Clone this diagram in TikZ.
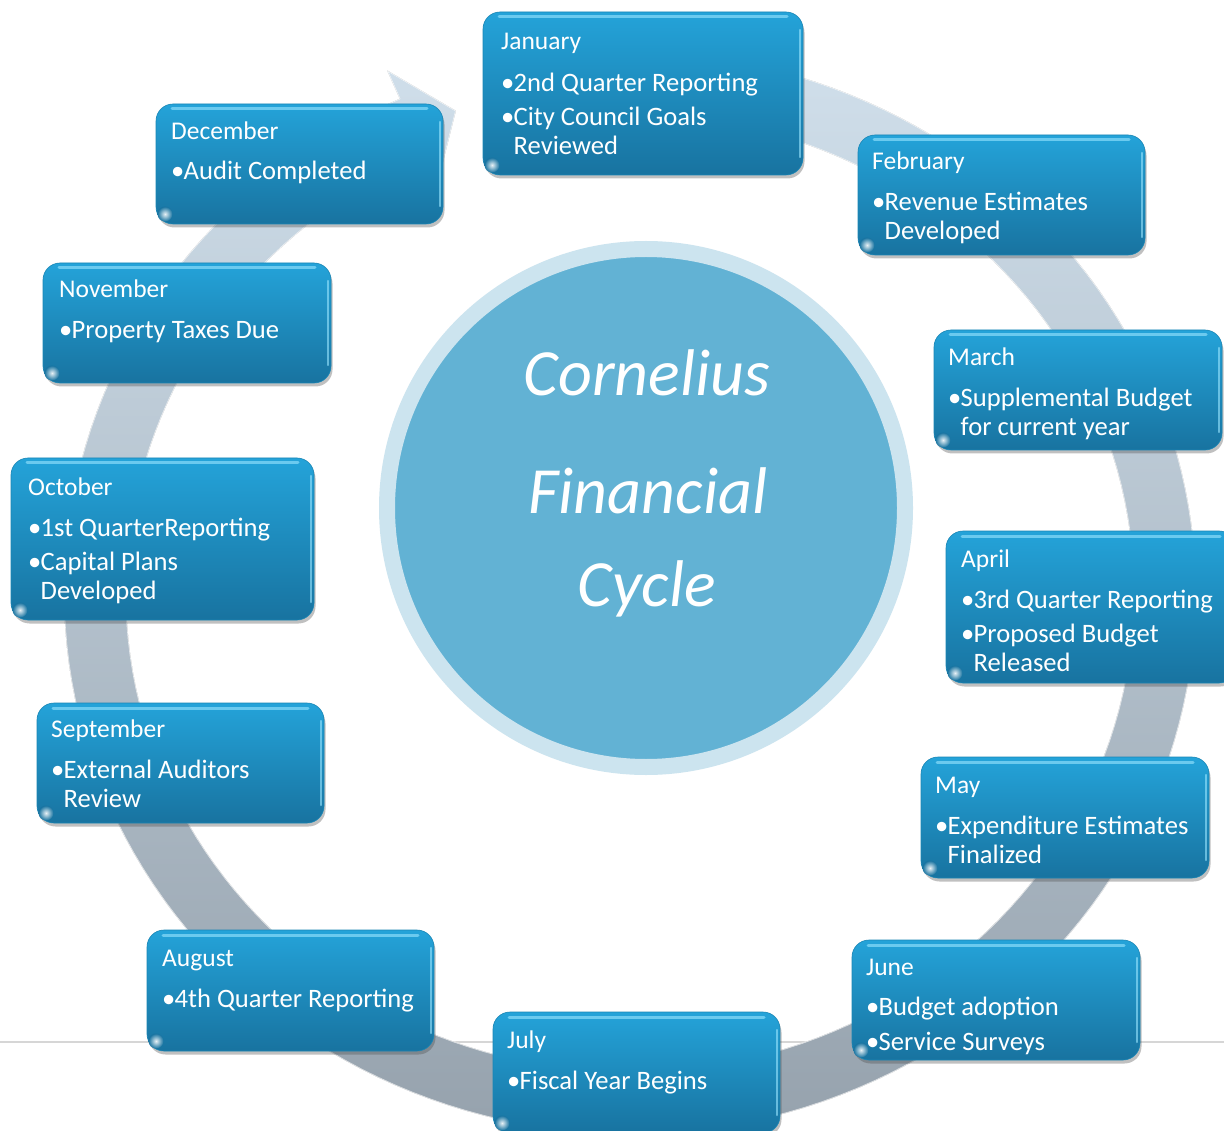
\documentclass[tikz,border=0pt]{standalone}
\usepackage{fontspec}
\setmainfont{Carlito}
\usetikzlibrary{shadows}

\definecolor{boxtop}{HTML}{24A3D9}
\definecolor{boxbot}{HTML}{1873A0}
\definecolor{boxedge}{HTML}{1A86B5}
\definecolor{boxshine}{HTML}{9BE6FF}
\definecolor{bandtop}{HTML}{D0DFEB}
\definecolor{bandbot}{HTML}{96A2AD}
\definecolor{hubfill}{HTML}{62B2D4}
\definecolor{hubring}{HTML}{CCE4EF}
\definecolor{rulegrey}{HTML}{D6D6D6}

% one line of a month card: heading, bulleted line, wrapped continuation
\newcommand\hd[1]{\hbox{\smash{\fontsize{25.5}{25.5}\selectfont#1}}}
\newcommand\bl[2]{\vskip#1pt\hbox{\smash{\makebox[12.5pt][l]{•}#2}}}
\newcommand\wl[2]{\vskip#1pt\hbox{\smash{\hspace*{12.5pt}#2}}}

% name, x1, y1, x2, y2, text x, heading baseline y, lines
\newcommand\monthbox[8]{%
  \node[mbox, minimum width={#4-#2}, minimum height={#5-#3}] (#1) at ({(#2+#4)/2},{(#3+#5)/2}) {};
  \draw[gloss, line width=3pt] ({#2+16},{#3+5}) -- ({#4-16},{#3+5});
  \draw[gloss, line width=2.5pt] ({#4-3},{#3+18}) -- ({#4-3},{#5-18});
  \shade[inner color=white, outer color=boxbot, opacity=.9] ({#2+9},{#5-10}) circle (7.5);
  \node[mtext] (#1-text) at (#6,#7) {\vtop{\offinterlineskip #8}};
}

\begin{document}
\begin{tikzpicture}[x=1pt, y=-1pt,
  mbox/.style={rectangle, rounded corners=17pt, inner sep=0pt,
    top color=boxtop, bottom color=boxbot, draw=boxedge, line width=.6pt,
    drop shadow={shadow xshift=1.5pt, shadow yshift=-3.5pt, opacity=.35, fill=black!70}},
  gloss/.style={boxshine, opacity=.6, line cap=round},
  mtext/.style={anchor=base west, inner sep=0pt, text=white, font=\fontsize{26.6}{30}\selectfont},
  hubtext/.style={anchor=base, inner sep=0pt, text=white, font=\fontsize{66}{66}\selectfont\itshape}]

\useasboundingbox (0,0) rectangle (1224,1131);
\clip (0,0) rectangle (1224,1131);
\fill[white] (0,0) rectangle (1224,1131);

% thin page rule behind the cycle
\draw[rulegrey, line width=1.5pt] (0,1042) -- (1224,1042);

% circular arrow band with its head just before January
\coordinate (headout) at (387.2,70.5);
\coordinate (headtip) at (455.8,110.8);
\coordinate (headin)  at (437.6,183.8);
\fill[top color=bandtop, bottom color=bandbot]
  plot[domain=-100:246, samples=180] ({630+566*cos(\x)},{593+541*sin(\x)})
  -- (headout) -- (headtip) -- (headin)
  -- plot[domain=246:-100, samples=180] ({630+504*cos(\x)},{593+479*sin(\x)})
  -- cycle;
\draw[white, opacity=.7, line width=1.2pt, line join=round]
  plot[domain=-100:246, samples=180] ({630+566*cos(\x)},{593+541*sin(\x)})
  -- (headout) -- (headtip) -- (headin)
  -- plot[domain=246:-100, samples=180] ({630+504*cos(\x)},{593+479*sin(\x)});

% month cards
\monthbox{jan}{483}{12}{803}{175}{501}{50}{\hd{January}\bl{42}{2nd Quarter Reporting}\bl{34}{City Council Goals}\wl{29}{Reviewed}}
\monthbox{feb}{858}{135}{1145}{255}{872}{170}{\hd{February}\bl{41}{Revenue Estimates}\wl{29}{Developed}}
\monthbox{mar}{934}{330}{1222}{450}{948}{366}{\hd{March}\bl{41}{Supplemental Budget}\wl{29}{for current year}}
\monthbox{apr}{946}{531}{1236}{683}{961}{567}{\hd{April}\bl{41}{3rd Quarter Reporting}\bl{34}{Proposed Budget}\wl{29}{Released}}
\monthbox{may}{921}{757}{1209}{878}{935}{793}{\hd{May}\bl{41}{Expenditure Estimates}\wl{29}{Finalized}}
\monthbox{jun}{852}{940}{1140}{1060}{866}{975}{\hd{June}\bl{40}{Budget adoption}\bl{35}{Service Surveys}}
\monthbox{jul}{493}{1012}{780}{1133}{507}{1048}{\hd{July}\bl{41}{Fiscal Year Begins}}
\monthbox{aug}{147}{930}{434}{1051}{162}{966}{\hd{August}\bl{41}{4th Quarter Reporting}}
\monthbox{sep}{37}{703}{324}{823}{51}{737}{\hd{September}\bl{41}{External Auditors}\wl{29}{Review}}
\monthbox{oct}{11}{458}{314}{620}{28}{496}{\hd{October}\bl{40}{1st QuarterReporting}\bl{34}{Capital Plans}\wl{30}{Developed}}
\monthbox{nov}{43}{263}{331}{383}{59}{298}{\hd{November}\bl{41}{Property Taxes Due}}
\monthbox{dec}{156}{104}{443}{224}{171}{140}{\hd{December}\bl{40}{Audit Completed}}

% central hub
\node[circle, fill=hubfill, draw=hubring, line width=16pt, minimum size=518pt, inner sep=0pt] (hub) at (646,508) {};
\node[hubtext] (hub-l1) at (647,396) {Cornelius};
\node[hubtext] (hub-l2) at (648,513) {Financial};
\node[hubtext] (hub-l3) at (647,606) {Cycle};

\end{tikzpicture}
\end{document}
